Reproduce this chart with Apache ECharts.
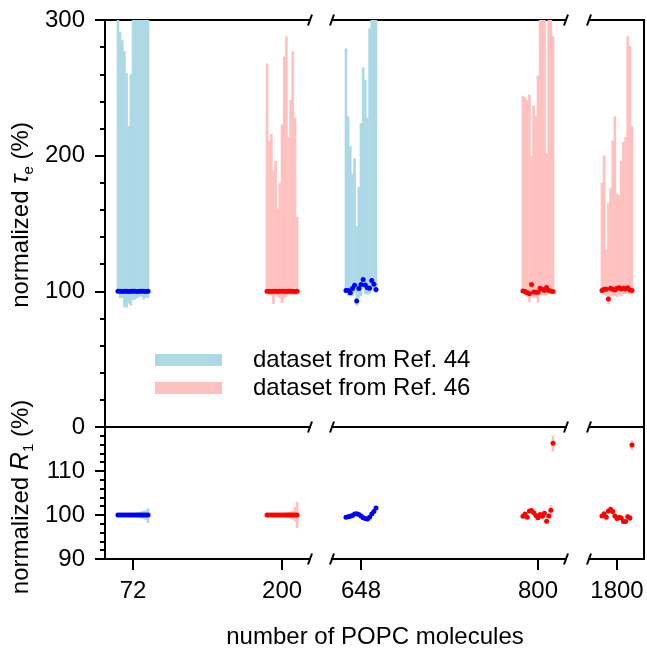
<!DOCTYPE html>
<html><head><meta charset="utf-8">
<script src="https://cdn.jsdelivr.net/npm/echarts@6/dist/echarts.min.js"></script>
<style>html,body{margin:0;padding:0;background:#fff}#c{width:647px;height:652px}</style>
</head><body><div id="c"></div>
<script>
// ---- data ----
const offsets = [-12.9,-11.06,-9.21,-7.37,-5.53,-3.69,-1.84,0,1.84,3.69,5.53,7.37,9.21,11.06,12.9];
const sizes = [72, 200, 648, 800, 1800];
const tickLabels = ['72','200','648','800','1800'];
const datasetOf = ['Ref. 44','Ref. 46','Ref. 44','Ref. 46','Ref. 46'];

// normalized tau_e (%) : mean, lower, upper
const tau72Mean  = [100,100.1,99.9,100,100.1,99.9,100,100.1,100,99.9,100,100.1,100,99.9,100];
const tau72Low   = [98.5,95,95,88.5,88,91,89.5,93.5,94,95,96,96,94,95,95];
const tau72High  = [330,291,285,277,261,222,260,340,350,360,345,335,350,340,330];
const tau200Mean = [100,100.1,99.9,100,100.1,99.9,100,100.1,100,99.9,100,100.1,100,99.9,100];
const tau200Low  = [98.5,97,97,90.7,97,96,94.6,91.4,94.6,96,97.5,97.5,97.5,97.5,97.5];
const tau200High = [268,211,216,189,196,161,180,223,273,288,214,241,277,228,155];
const tau648Mean = [100.7,100.7,99,102,104.4,92.9,102,105.1,108.8,104.6,102.7,102.2,108,105.3,101.4];
const tau648Low  = [99,96.6,96.5,96.6,99,89.4,94.6,96.5,102,98,97.5,98,103,100,98.5];
const tau648High = [279,229,207,187,198,148,177,224,265,256,228,294,330,340,320];
const tau800Mean = [100.3,99.8,99.0,98.3,105,99.5,99.3,99.3,102.2,101.5,100.7,102.9,100.7,100.3,99.8];
const tau800Low  = [98.5,96.6,96,92,96,95,95,91.6,97.5,97,97,97,98,98,98];
const tau800High = [244,243,241,245,200,237,229,259,330,340,330,202,340,330,288];
const tau1800Mean= [100.7,101.5,101.5,94.3,102.2,101.5,101,102.2,102.7,101.7,102.2,101.7,102.7,101,100.7];
const tau1800Low = [99,97.5,96.6,90.4,96.6,96.6,96.6,95.8,97.5,96.6,98,98,98,97.5,98];
const tau1800High= [180,200,131,165,176,211,229,172,171,196,210,214,288,281,222];

// normalized R1 (%) : mean, lower, upper
const r72Mean  = [100,100,100,100,100,100,100,100,100,100,100,100,100,100,100];
const r72Low   = [99.7,99.7,99.7,99.6,99.6,99.6,99.5,99.5,99.5,99.4,99.3,99.2,99.1,98.9,98.2];
const r72High  = [100.3,100.3,100.3,100.4,100.4,100.4,100.5,100.5,100.5,100.6,100.7,100.8,100.9,101.1,101.5];
const r200Mean = [100,100,100,100,100,100,100,100,100,100,100,100,100,100,100];
const r200Low  = [99.7,99.7,99.7,99.7,99.6,99.6,99.6,99.5,99.5,99.4,99.3,99.2,99.0,98.5,97.0];
const r200High = [100.3,100.3,100.3,100.3,100.4,100.4,100.4,100.5,100.5,100.6,100.7,100.8,101.0,101.8,103.0];
const r648Mean = [99.5,99.6,99.7,99.9,100.2,100.3,100.1,99.8,99.4,99.2,99.1,99.5,100.2,100.8,101.6];
const r648Low  = [99.3,99.4,99.5,99.7,100.0,100.1,99.9,99.6,99.2,99.0,98.9,99.3,100.0,100.6,101.4];
const r648High = [99.7,99.8,99.9,100.1,100.4,100.5,100.3,100.0,99.6,99.4,99.3,99.7,100.4,101.0,101.8];
const r800Mean = [99.7,100.2,99.5,100.9,101,100.5,99.9,99.4,100.1,99.7,100.4,98.6,99.8,101.1,116.3];
const r800Low  = [99.4,99.9,99.2,100.6,100.7,100.2,99.6,99.1,99.8,99.4,100.0,98.1,99.2,100.0,114.4];
const r800High = [100.0,100.5,99.8,101.2,101.3,100.8,100.2,99.7,100.4,100.0,100.8,99.1,100.4,102.3,118.0];
const r1800Mean= [99.8,100.3,99.5,100.9,101.3,100.8,99.8,99.2,99.5,99.3,98.5,98.5,99.6,99.3,115.9];
const r1800Low = [99.5,100.0,99.2,100.6,101.0,100.5,99.5,98.9,99.2,99.0,98.2,98.2,99.0,98.6,114.7];
const r1800High= [100.1,100.6,99.8,101.2,101.6,101.1,100.1,99.5,99.8,99.6,98.8,98.8,100.2,100.0,117.0];

// ---- chart ----
const FONT = 'Liberation Sans, Arial, Helvetica, sans-serif';
const FS = 24;
const segs = [
  {left:105, width:205, min:47.95,  max:224.0,  ticks:[72,200]},
  {left:332, width:234, min:623.09, max:824.05, ticks:[648,800]},
  {left:589, width:55,  min:1775.95,max:1823.18,ticks:[1800]}
];
const segOf = [0,0,1,1,2];
const groups = [
  {tau:[tau72Mean,tau72Low,tau72High],     r:[r72Mean,r72Low,r72High]},
  {tau:[tau200Mean,tau200Low,tau200High],  r:[r200Mean,r200Low,r200High]},
  {tau:[tau648Mean,tau648Low,tau648High],  r:[r648Mean,r648Low,r648High]},
  {tau:[tau800Mean,tau800Low,tau800High],  r:[r800Mean,r800Low,r800High]},
  {tau:[tau1800Mean,tau1800Low,tau1800High], r:[r1800Mean,r1800Low,r1800High]}
];
const colors = {
  'Ref. 44': {bar:'#add8e6', dot:'#0000ff'},
  'Ref. 46': {bar:'#ffc0c0', dot:'#ff0000'}
};
const STEP = 1.84;

const grids = [], xAxes = [], yAxes = [], series = [];
const axLine = {show:true, lineStyle:{color:'#000', width:2}};
segs.forEach((s,i)=>{
  grids.push({left:s.left, width:s.width, top:20, height:407});
  grids.push({left:s.left, width:s.width, top:427, height:132});
});
segs.forEach((s,i)=>{
  xAxes.push({gridIndex:2*i, type:'value', min:s.min, max:s.max, position:'bottom',
    axisLine:axLine, axisTick:{show:false}, axisLabel:{show:false}, splitLine:{show:false}});
  xAxes.push({gridIndex:2*i, type:'value', min:s.min, max:s.max, position:'top',
    axisLine:axLine, axisTick:{show:false}, axisLabel:{show:false}, splitLine:{show:false}});
  xAxes.push({gridIndex:2*i+1, type:'value', min:s.min, max:s.max, position:'bottom',
    axisLine:axLine,
    axisTick:{show:true, length:11, lineStyle:{width:2,color:'#000'}, customValues:s.ticks},
    axisLabel:{show:true, customValues:s.ticks, margin:20, fontSize:FS, fontFamily:FONT, color:'#000',
      formatter:v=>tickLabels[sizes.indexOf(Math.round(v))]},
    splitLine:{show:false}});
});
segs.forEach((s,i)=>{
  const isFirst = i===0, isLast = i===segs.length-1;
  yAxes.push({gridIndex:2*i, type:'value', min:0, max:300, interval:100,
    position: isLast ? 'right' : 'left', show: isFirst || isLast,
    axisLine:axLine,
    axisTick:{show:isFirst, length:10, lineStyle:{width:2,color:'#000'}},
    minorTick:{show:isFirst, splitNumber:5, length:5, lineStyle:{width:2,color:'#000'}},
    axisLabel:{show:isFirst, margin:20, fontSize:FS, fontFamily:FONT, color:'#000'},
    splitLine:{show:false}});
  yAxes.push({gridIndex:2*i+1, type:'value', min:90, max:120, interval:10,
    position: isLast ? 'right' : 'left', show: isFirst || isLast,
    axisLine:axLine,
    axisTick:{show:isFirst, length:10, lineStyle:{width:2,color:'#000'}},
    minorTick:{show:isFirst, splitNumber:5, length:5, lineStyle:{width:2,color:'#000'}},
    axisLabel:{show:isFirst, margin:20, fontSize:FS, fontFamily:FONT, color:'#000',
      formatter:v=> v===120 ? '' : String(v)},
    splitLine:{show:false}});
});
function errRender(color){
  return function(params, api){
    const x = api.value(0), lo = api.value(1), hi = api.value(2);
    const p1 = api.coord([x, hi]), p2 = api.coord([x, lo]);
    const w = api.size([STEP, 0])[0] + 0.5;
    const cs = params.coordSys;
    const r = echarts.graphic.clipRectByRect(
      {x:p1[0]-w/2, y:p1[1], width:w, height:p2[1]-p1[1]},
      {x:cs.x, y:cs.y, width:cs.width, height:cs.height});
    if(!r) return;
    return {type:'rect', shape:r, style:{fill:color}};
  };
}
groups.forEach((g,k)=>{
  const si = segOf[k], ds = datasetOf[k], c = colors[ds];
  const N = sizes[k];
  const panels = [['tau', 2*si, 3*si], ['r', 2*si+1, 3*si+2]];
  panels.forEach(([key, yi, xi])=>{
    const [mean, lo, hi] = g[key];
    series.push({type:'custom', name:'dataset from '+ds, xAxisIndex:xi, yAxisIndex:yi,
      renderItem: errRender(c.bar), itemStyle:{color:c.bar}, z:2, silent:true,
      data: offsets.map((o,j)=>[N+o, lo[j], hi[j]])});
    series.push({type:'scatter', name:'mean '+ds, xAxisIndex:xi, yAxisIndex:yi,
      symbolSize:5, itemStyle:{color:c.dot, opacity:1}, z:3, silent:true,
      data: offsets.map((o,j)=>[N+o, mean[j]])});
  });
});

const breakXs = [310, 332, 566, 589];
const breakYs = [20, 427, 559];
const graphics = [];
breakXs.forEach(x=>breakYs.forEach(y=>{
  graphics.push({type:'line', shape:{x1:x-2, y1:y+5.5, x2:x+2, y2:y-5.5},
    style:{stroke:'#000', lineWidth:2}, z:10});
}));
const richBase = {
  n:{fontSize:FS, fontFamily:FONT, color:'#000', lineHeight:30},
  g:{fontSize:FS+1, fontFamily:FONT, fontStyle:'italic', color:'#000', lineHeight:30},
  s:{fontSize:15, fontFamily:FONT, color:'#000', lineHeight:30, verticalAlign:'bottom'}
};
graphics.push({type:'text', x:21, y:215, rotation:Math.PI/2, z:10,
  style:{text:'{n|normalized }{g|τ}{s|e}{n| (%)}', rich:richBase, align:'center', verticalAlign:'middle'}});
graphics.push({type:'text', x:21, y:497, rotation:Math.PI/2, z:10,
  style:{text:'{n|normalized }{g|R}{s|1}{n| (%)}', rich:richBase, align:'center', verticalAlign:'middle'}});
graphics.push({type:'text', x:375, y:637, z:10,
  style:{text:'number of POPC molecules', fontSize:FS, fontFamily:FONT, fill:'#000', align:'center', verticalAlign:'middle'}});

const chart = echarts.init(document.getElementById('c'), null, {renderer:'canvas'});
chart.setOption({
  animation:false,
  grid:grids, xAxis:xAxes, yAxis:yAxes, series:series,
  legend:{orient:'vertical', left:150, top:343, itemWidth:67, itemHeight:12, itemGap:4,
    icon:'rect', selectedMode:false,
    textStyle:{fontSize:FS, fontFamily:FONT, color:'#000', padding:[0,0,0,26]},
    data:[{name:'dataset from Ref. 44', itemStyle:{color:'#add8e6'}},
          {name:'dataset from Ref. 46', itemStyle:{color:'#ffc0c0'}}]},
  graphic:graphics
});
</script></body></html>
